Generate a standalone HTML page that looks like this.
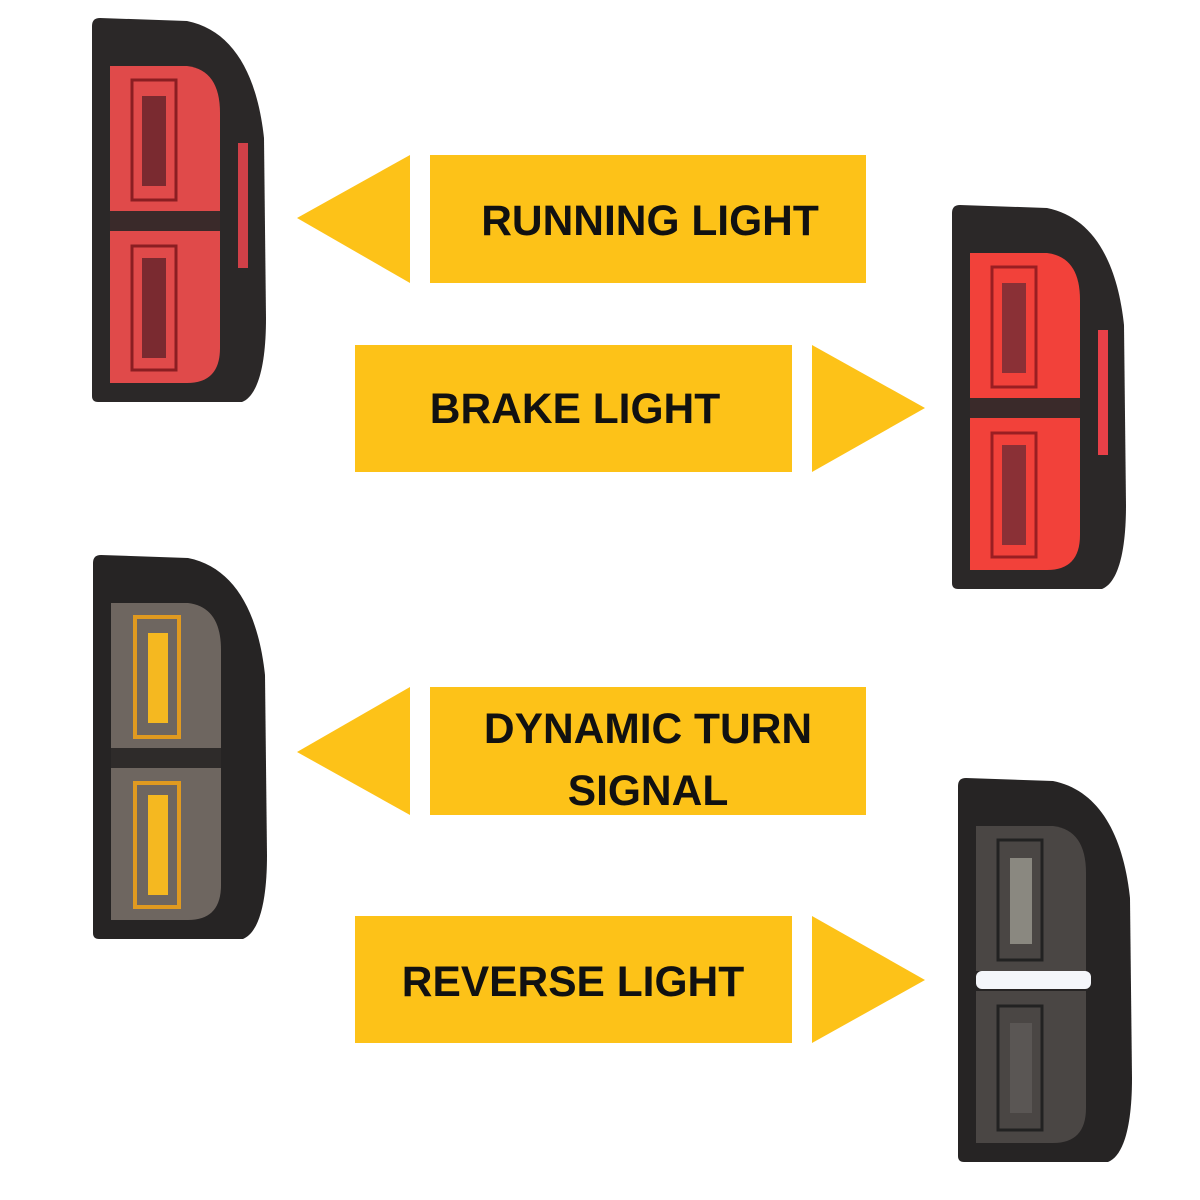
<!DOCTYPE html>
<html><head><meta charset="utf-8"><style>
html,body{margin:0;padding:0;background:#fff;width:1200px;height:1200px;overflow:hidden}
svg{position:absolute;left:0;top:0}
text{font-family:"Liberation Sans",sans-serif;font-weight:bold;font-size:42.5px;fill:#111}
</style></head><body>
<svg width="1200" height="1200" viewBox="0 0 1200 1200">
<defs>
<path id="body" d="M8,0 L95,3 C140,12 165,55 172,120 L174,300 C174,350 165,378 150,384 L6,384 Q0,384 0,378 L0,8 Q0,0 8,0 Z"/>
<path id="up" d="M18,48 L95,48 Q128,52 128,95 L128,193 L18,193 Z"/>
<path id="lo" d="M18,213 L128,213 L128,330 Q128,365 95,365 L18,365 Z"/>
</defs>
<g fill="#FDC218">
<rect x="430" y="155" width="436" height="128"/>
<polygon points="297,218 410,155 410,283"/>
<rect x="355" y="345" width="437" height="127"/>
<polygon points="812,345 812,472 925,408"/>
<rect x="430" y="687" width="436" height="128"/>
<polygon points="297,752 410,687 410,815"/>
<rect x="355" y="916" width="437" height="127"/>
<polygon points="812,916 812,1043 925,980"/>
</g>
<text x="650" y="235" text-anchor="middle">RUNNING LIGHT</text>
<text x="575" y="423" text-anchor="middle">BRAKE LIGHT</text>
<text x="648" y="743" text-anchor="middle">DYNAMIC TURN</text>
<text x="648" y="805" text-anchor="middle">SIGNAL</text>
<text x="573" y="996" text-anchor="middle">REVERSE LIGHT</text>

<g transform="translate(92,18)">
<use href="#body" fill="#2b2828"/>
<use href="#up" fill="#e04a4a"/><use href="#lo" fill="#e04a4a"/>
<rect x="18" y="193" width="110" height="20" fill="#3a2a2a"/>
<rect x="40" y="62" width="44" height="120" fill="none" stroke="#8a1e22" stroke-width="3"/>
<rect x="50" y="78" width="24" height="90" fill="#7a2a30"/>
<rect x="40" y="228" width="44" height="124" fill="none" stroke="#8a1e22" stroke-width="3"/>
<rect x="50" y="240" width="24" height="100" fill="#7a2a30"/>
<rect x="146" y="125" width="10" height="125" fill="#d04048"/>
</g>
<g transform="translate(952,205)">
<use href="#body" fill="#2b2828"/>
<use href="#up" fill="#f2413a"/><use href="#lo" fill="#f2413a"/>
<rect x="18" y="193" width="110" height="20" fill="#3a2a2a"/>
<rect x="40" y="62" width="44" height="120" fill="none" stroke="#9a1e22" stroke-width="3"/>
<rect x="50" y="78" width="24" height="90" fill="#8a3036"/>
<rect x="40" y="228" width="44" height="124" fill="none" stroke="#9a1e22" stroke-width="3"/>
<rect x="50" y="240" width="24" height="100" fill="#8a3036"/>
<rect x="146" y="125" width="10" height="125" fill="#e84048"/>
</g>
<g transform="translate(93,555)">
<use href="#body" fill="#262424"/>
<use href="#up" fill="#6e6660"/><use href="#lo" fill="#6e6660"/>
<rect x="18" y="193" width="110" height="20" fill="#2e2b2a"/>
<rect x="42" y="62" width="44" height="120" fill="none" stroke="#e09a20" stroke-width="4"/>
<rect x="55" y="78" width="20" height="90" fill="#f5b820"/>
<rect x="42" y="228" width="44" height="124" fill="none" stroke="#e09a20" stroke-width="4"/>
<rect x="55" y="240" width="20" height="100" fill="#f5b820"/>
</g>
<g transform="translate(958,778)">
<use href="#body" fill="#262424"/>
<use href="#up" fill="#4a4644"/><use href="#lo" fill="#4a4644"/>
<rect x="40" y="62" width="44" height="120" fill="none" stroke="#222" stroke-width="3"/>
<rect x="52" y="80" width="22" height="86" fill="#8a8880"/>
<rect x="40" y="228" width="44" height="124" fill="none" stroke="#222" stroke-width="3"/>
<rect x="52" y="245" width="22" height="90" fill="#5a5654"/>
<rect x="18" y="193" width="115" height="18" rx="6" fill="#f4f6fa"/>
</g>
</svg>
</body></html>
